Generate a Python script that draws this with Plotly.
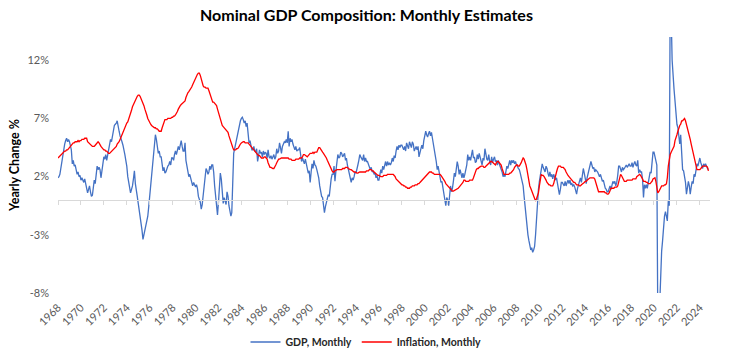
import pandas as pd
import plotly.graph_objects as go

start_month = "1968-01-01"

gdp_monthly = [
    1.9, 2.0, 2.2, 2.8, 3.4, 3.9, 4.3, 4.8, 5.1, 5.3, 5.0, 5.2,      # 1968
    5.0, 4.6, 4.3, 3.1, 3.4, 2.9, 3.0, 2.6, 2.2, 2.4, 2.0, 2.1,      # 1969
    1.7, 1.9, 1.6, 1.5, 1.8, 1.3, 1.0, 0.6, 0.9, 1.2, 0.7, 0.3,      # 1970
    0.4, 1.0, 1.7, 1.4, 2.2, 2.9, 2.6, 2.8, 2.6, 1.9, 2.5, 3.1,      # 1971
    3.7, 3.5, 3.9, 3.4, 3.8, 4.4, 4.9, 5.2, 5.0, 5.6, 6.1, 6.4,      # 1972
    6.5, 6.6, 6.8, 6.2, 5.9, 5.5, 5.3, 5.0, 4.7, 4.4, 3.9, 3.4,      # 1973
    2.9, 2.0, 1.6, 1.1, 0.6, 0.9, 1.2, 1.8, 2.5, 1.4, 0.6, 0.3,      # 1974
    -0.3, -0.8, -1.4, -2.0, -2.6, -3.4, -3.0, -2.7, -2.3, -1.9, -1.4, -0.6,  # 1975
    0.3, 1.2, 2.0, 2.8, 3.7, 4.6, 5.6, 5.2, 4.4, 4.0, 4.2, 3.7,      # 1976
    3.7, 3.2, 2.5, 2.8, 2.3, 2.4, 2.7, 2.9, 3.0, 3.3, 3.0, 3.6,      # 1977
    3.6, 3.4, 3.9, 4.2, 3.9, 4.4, 4.6, 4.3, 4.8, 5.1, 4.6, 4.2,      # 1978
    4.2, 4.9, 3.4, 3.0, 2.4, 2.0, 2.2, 1.9, 1.6, 1.2, 1.5, 1.3,      # 1979
    1.1, 1.3, 1.0, 0.3, 0.1, -0.2, -0.8, -0.4, 0.4, 1.1, 1.9, 2.7,   # 1980
    2.5, 2.2, 2.4, 2.9, 2.6, 3.0, 3.0, 2.4, 1.2, 0.4, -0.4, -1.3,    # 1981
    -0.2, 1.5, 2.3, 1.8, 0.6, -0.3, 0.2, -0.1, -0.4, 0.7, 0.3, -0.5, # 1982
    -1.0, -1.4, -1.1, 1.5, 4.0, 4.4, 4.8, 5.3, 5.7, 6.3, 6.5, 6.8,   # 1983
    7.0, 7.1, 6.9, 6.6, 6.8, 6.3, 6.6, 5.8, 4.9, 5.1, 4.6, 4.3,      # 1984
    4.3, 4.6, 4.2, 4.1, 4.4, 3.3, 3.8, 4.3, 4.0, 4.1, 3.7, 4.2,      # 1985
    3.9, 4.1, 4.0, 3.6, 4.3, 3.7, 3.6, 3.8, 3.5, 3.7, 3.9, 3.5,      # 1986
    3.7, 4.4, 4.0, 4.2, 4.9, 4.5, 4.0, 4.6, 4.9, 5.0, 4.9, 5.2,      # 1987
    4.9, 5.9, 4.6, 5.3, 5.0, 5.2, 4.8, 4.5, 4.3, 4.6, 4.2, 4.3,      # 1988
    4.3, 4.5, 4.0, 3.3, 3.6, 3.4, 3.1, 3.5, 3.0, 2.7, 2.3, 2.5,      # 1989
    1.5, 2.4, 3.1, 2.7, 3.4, 3.0, 2.9, 2.6, 2.3, 1.9, 1.2, 0.6,      # 1990
    0.3, 0.2, -0.3, -1.1, -0.6, -0.3, 0.1, 0.45, 0.3, 1.2, 1.8, 2.2, # 1991
    2.2, 2.9, 1.6, 2.5, 3.0, 3.9, 3.6, 3.7, 4.1, 4.0, 3.7, 3.8,      # 1992
    4.0, 3.4, 3.6, 3.0, 2.6, 2.0, 1.8, 1.5, 1.9, 1.7, 2.0, 2.4,      # 1993
    2.3, 2.9, 3.0, 3.4, 3.9, 3.7, 3.5, 3.4, 3.9, 3.3, 3.6, 3.3,      # 1994
    3.3, 3.0, 2.9, 2.6, 2.8, 2.4, 2.5, 2.2, 2.3, 1.9, 2.1, 1.7,      # 1995
    1.7, 2.1, 2.6, 2.3, 2.9, 2.6, 3.1, 3.3, 2.9, 3.3, 3.0, 3.2,      # 1996
    3.0, 3.2, 3.6, 3.3, 3.8, 3.6, 4.2, 4.6, 4.3, 4.7, 4.5, 4.7,      # 1997
    4.7, 4.4, 4.3, 4.6, 4.2, 4.9, 4.6, 4.4, 5.0, 4.8, 4.5, 5.0,      # 1998
    4.8, 4.2, 4.5, 4.6, 4.3, 4.6, 3.7, 4.2, 4.4, 4.7, 4.4, 5.1,      # 1999
    5.5, 5.9, 5.6, 5.4, 5.7, 5.9, 5.5, 5.8, 5.3, 4.9, 4.3, 3.8,      # 2000
    3.3, 2.6, 2.9, 2.4, 2.0, 1.5, 1.6, 1.1, 0.6, 0.3, -0.5, 0.2,     # 2001
    0.0, -0.5, 0.4, 1.2, 0.7, 1.0, 1.6, 2.3, 2.0, 2.8, 3.3, 2.9,     # 2002
    2.2, 2.6, 2.1, 1.9, 2.3, 1.9, 2.2, 2.6, 3.0, 3.9, 3.4, 3.7,      # 2003
    3.4, 3.9, 4.3, 3.6, 3.7, 3.2, 3.3, 3.9, 3.5, 4.0, 3.7, 3.3,      # 2004
    3.0, 3.6, 3.4, 4.4, 3.9, 3.5, 3.4, 3.9, 3.3, 3.0, 3.7, 3.2,      # 2005
    3.5, 3.7, 3.3, 3.4, 3.0, 3.4, 3.1, 2.9, 2.7, 2.4, 2.0, 2.2,      # 2006
    2.0, 2.5, 2.9, 2.7, 3.1, 3.4, 3.0, 3.4, 3.2, 3.4, 3.1, 3.3,      # 2007
    3.0, 2.9, 2.7, 2.6, 2.3, 2.0, 1.7, 1.2, 0.3, -0.6, -1.4, -2.3,   # 2008
    -3.0, -3.5, -3.9, -4.3, -4.1, -4.5, -4.3, -4.0, -3.0, -1.4, -0.2, 0.9,  # 2009
    1.6, 2.3, 2.7, 3.1, 2.8, 2.6, 2.4, 2.9, 2.7, 2.3, 2.0, 2.4,      # 2010
    2.0, 2.2, 1.8, 2.2, 2.0, 1.7, 1.9, 1.4, 1.0, 0.45, 0.9, 1.5,     # 2011
    1.5, 1.3, 1.2, 1.6, 1.2, 1.5, 1.7, 1.4, 1.7, 1.3, 1.4, 1.2,      # 2012
    1.3, 1.1, 0.8, 0.5, 1.0, 1.3, 1.6, 1.9, 1.5, 2.1, 2.7, 2.3,      # 2013
    1.8, 1.4, 1.9, 2.2, 2.6, 2.9, 3.3, 3.0, 2.7, 2.8, 2.4, 2.6,      # 2014
    2.5, 2.4, 2.2, 2.0, 2.2, 1.8, 1.6, 1.7, 1.2, 1.0, 0.9, 0.7,      # 2015
    0.7, 1.0, 1.2, 0.9, 1.4, 1.6, 1.4, 1.6, 1.2, 1.5, 2.1, 2.9,      # 2016
    2.9, 2.5, 2.4, 2.8, 2.6, 2.7, 2.9, 3.0, 2.8, 3.0, 3.1, 2.9,      # 2017
    2.9, 3.2, 2.8, 3.1, 3.3, 3.0, 2.9, 3.4, 2.3, 2.6, 2.4, 2.4,      # 2018
    1.8, 0.2, 1.3, 1.0, 1.3, 1.0, 1.4, 2.0, 2.4, 2.3, 3.3, 4.1,      # 2019
    4.1, 3.6, 3.3, 3.0, -10.0, -12.0, -9.0, -6.5, -4.4, -3.5, -1.8, -1.4,  # 2020
    -1.0, -1.5, -1.8, -0.1, -0.5, 18.0, 16.0, 12.0, 10.4, 9.5, 8.5, 7.3,   # 2021
    6.5, 6.2, 5.5, 4.8, 5.6, 3.5, 2.6, 2.5, 2.0, 1.5, 0.5, 0.9,      # 2022
    1.6, 1.2, 0.5, 1.1, 1.6, 1.4, 2.2, 2.0, 2.7, 3.1, 2.9, 3.4,      # 2023
    3.6, 3.2, 3.0, 2.7, 3.1, 2.9, 3.1, 2.8, 2.7, 2.6,                # 2024
]

inflation_monthly = [
    3.6, 3.7, 3.8, 3.9, 3.9, 4.0, 4.1, 4.2, 4.2, 4.3, 4.3, 4.4,      # 1968
    4.5, 4.6, 4.7, 4.8, 4.9, 4.9, 5.0, 5.0, 5.0, 5.1, 5.0, 5.1,      # 1969
    5.1, 5.2, 5.2, 5.2, 5.3, 5.3, 5.3, 5.0, 4.9, 4.8, 4.7, 4.7,      # 1970
    4.6, 4.6, 4.6, 4.7, 4.8, 4.9, 5.0, 4.9, 4.7, 4.6, 4.5, 4.4,      # 1971
    4.3, 4.3, 4.2, 4.2, 4.1, 4.0, 4.0, 4.1, 4.2, 4.2, 4.3, 4.4,      # 1972
    4.5, 4.6, 4.8, 4.9, 5.0, 5.2, 5.4, 5.7, 5.9, 6.0, 6.2, 6.4,      # 1973
    6.6, 6.7, 6.9, 7.1, 7.4, 7.7, 8.0, 8.2, 8.4, 8.6, 8.8, 8.9,      # 1974
    9.0, 9.0, 8.9, 8.7, 8.6, 8.4, 8.1, 7.8, 7.6, 7.3, 7.0, 6.8,      # 1975
    6.6, 6.5, 6.4, 6.3, 6.3, 6.2, 6.2, 6.1, 6.1, 6.0, 5.9, 5.9,      # 1976
    5.9, 6.2, 6.5, 6.8, 6.9, 6.9, 6.9, 7.0, 7.0, 7.0, 7.0, 7.1,      # 1977
    7.1, 7.2, 7.2, 7.3, 7.4, 7.6, 7.8, 8.0, 8.1, 8.2, 8.3, 8.3,      # 1978
    8.4, 8.5, 8.8, 9.1, 9.2, 9.3, 9.4, 9.5, 9.7, 9.9, 10.1, 10.3,    # 1979
    10.5, 10.7, 10.8, 10.9, 10.9, 10.7, 10.3, 9.9, 9.8, 9.7, 9.7, 9.6,  # 1980
    9.6, 9.6, 9.4, 9.1, 8.8, 8.5, 8.4, 8.4, 8.3, 8.3, 8.1, 7.8,      # 1981
    7.5, 7.3, 7.0, 6.7, 6.4, 6.3, 6.2, 6.1, 6.0, 5.9, 5.8, 5.5,      # 1982
    5.2, 5.0, 4.8, 4.5, 4.3, 4.3, 4.3, 4.4, 4.4, 4.5, 4.7, 4.8,      # 1983
    4.9, 5.0, 5.0, 5.0, 4.9, 4.9, 4.9, 4.9, 4.8, 4.7, 4.6, 4.5,      # 1984
    4.4, 4.3, 4.2, 4.0, 4.0, 3.9, 3.8, 3.8, 3.7, 3.6, 3.6, 3.6,      # 1985
    3.7, 3.7, 3.6, 3.5, 3.2, 2.9, 2.8, 2.8, 2.7, 2.7, 2.7, 2.8,      # 1986
    3.0, 3.2, 3.4, 3.5, 3.5, 3.6, 3.6, 3.6, 3.6, 3.6, 3.6, 3.6,      # 1987
    3.6, 3.6, 3.5, 3.5, 3.5, 3.4, 3.4, 3.4, 3.4, 3.5, 3.5, 3.5,      # 1988
    3.5, 3.6, 3.6, 3.6, 3.7, 3.9, 3.9, 3.8, 3.7, 3.7, 3.8, 3.9,      # 1989
    4.0, 4.0, 4.0, 4.1, 4.0, 4.1, 4.1, 4.1, 4.3, 4.5, 4.5, 4.4,      # 1990
    4.2, 4.1, 4.0, 3.9, 3.8, 3.6, 3.4, 3.2, 3.1, 2.9, 2.7, 2.5,      # 1991
    2.4, 2.4, 2.5, 2.6, 2.6, 2.6, 2.6, 2.6, 2.6, 2.6, 2.7, 2.7,      # 1992
    2.7, 2.8, 2.8, 2.8, 2.7, 2.6, 2.6, 2.6, 2.5, 2.5, 2.4, 2.4,      # 1993
    2.3, 2.3, 2.3, 2.4, 2.4, 2.4, 2.4, 2.4, 2.4, 2.4, 2.4, 2.5,      # 1994
    2.5, 2.5, 2.6, 2.6, 2.6, 2.5, 2.5, 2.4, 2.3, 2.3, 2.2, 2.1,      # 1995
    2.1, 2.0, 2.0, 2.0, 2.0, 2.1, 2.1, 2.1, 2.1, 2.2, 2.2, 2.2,      # 1996
    2.2, 2.2, 2.2, 2.2, 2.1, 2.0, 1.8, 1.7, 1.6, 1.5, 1.4, 1.3,      # 1997
    1.3, 1.3, 1.2, 1.2, 1.1, 1.1, 1.0, 1.0, 1.0, 1.1, 1.1, 1.2,      # 1998
    1.2, 1.2, 1.3, 1.3, 1.3, 1.4, 1.4, 1.5, 1.6, 1.7, 1.8, 1.9,      # 1999
    2.0, 2.1, 2.2, 2.3, 2.3, 2.4, 2.4, 2.4, 2.3, 2.3, 2.2, 2.2,      # 2000
    2.2, 2.2, 2.2, 2.2, 2.2, 2.1, 2.0, 1.9, 1.8, 1.6, 1.4, 1.3,      # 2001
    1.2, 1.1, 1.0, 0.9, 0.8, 0.75, 0.75, 0.8, 0.85, 0.9, 0.9, 1.0,   # 2002
    1.1, 1.2, 1.3, 1.4, 1.5, 1.7, 1.7, 1.6, 1.6, 1.6, 1.6, 1.7,      # 2003
    1.7, 1.7, 1.7, 1.9, 2.2, 2.5, 2.6, 2.7, 2.7, 2.8, 2.9, 2.9,      # 2004
    2.9, 2.9, 2.8, 2.8, 2.9, 3.0, 3.1, 3.1, 3.2, 3.3, 3.3, 3.2,      # 2005
    3.1, 3.0, 3.0, 3.2, 3.3, 3.3, 3.2, 3.1, 3.0, 2.7, 2.4, 2.2,      # 2006
    2.2, 2.2, 2.2, 2.2, 2.2, 2.3, 2.3, 2.4, 2.5, 2.6, 2.8, 2.9,      # 2007
    3.0, 3.0, 2.9, 2.9, 3.0, 3.2, 3.4, 3.6, 3.5, 3.3, 3.0, 2.6,      # 2008
    2.0, 1.6, 1.2, 1.0, 0.8, 0.6, 0.4, 0.2, -0.1, 0.1, 0.3, 0.6,     # 2009
    1.2, 2.0, 2.2, 2.1, 2.1, 2.0, 1.9, 1.7, 1.5, 1.4, 1.3, 1.3,      # 2010
    1.2, 1.2, 1.2, 1.4, 1.8, 2.1, 2.4, 2.7, 2.9, 2.9, 2.9, 2.8,      # 2011
    2.8, 2.8, 2.7, 2.6, 2.4, 2.2, 2.1, 2.0, 1.9, 1.8, 1.7, 1.6,      # 2012
    1.5, 1.5, 1.4, 1.3, 1.3, 1.3, 1.2, 1.2, 1.3, 1.4, 1.5, 1.5,      # 2013
    1.6, 1.6, 1.7, 1.8, 1.9, 1.9, 1.9, 1.9, 1.9, 1.9, 1.8, 1.5,      # 2014
    1.1, 0.8, 0.7, 0.7, 0.7, 0.7, 0.7, 0.7, 0.7, 0.6, 0.6, 0.5,      # 2015
    0.5, 0.6, 0.8, 1.0, 1.0, 1.0, 1.0, 1.1, 1.1, 1.1, 1.2, 1.6,      # 2016
    2.0, 2.2, 2.1, 1.9, 1.7, 1.6, 1.6, 1.6, 1.7, 1.7, 1.7, 1.7,      # 2017
    1.7, 1.7, 1.8, 1.8, 1.8, 1.8, 2.0, 2.1, 2.2, 2.2, 2.1, 2.0,      # 2018
    1.8, 1.6, 1.6, 1.6, 1.5, 1.5, 1.4, 1.4, 1.4, 1.5, 1.6, 1.8,      # 2019
    1.9, 1.9, 1.6, 0.8, 0.6, 0.7, 0.9, 1.1, 1.2, 1.2, 1.2, 1.3,      # 2020
    1.3, 1.4, 1.9, 2.9, 3.7, 3.9, 4.1, 4.3, 4.4, 4.6, 5.1, 5.5,      # 2021
    5.6, 5.9, 6.3, 6.4, 6.5, 6.8, 6.8, 6.9, 7.0, 6.8, 6.5, 6.2,      # 2022
    5.9, 5.6, 5.2, 4.8, 4.4, 4.0, 3.6, 3.2, 2.8, 2.6, 2.6, 2.6,      # 2023
    2.6, 2.7, 2.8, 2.9, 2.9, 2.9, 2.9, 2.9, 2.8, 2.5,                # 2024
]

y_tick_values = [-8, -3, 2, 7, 12]
y_tick_labels = ["-8%", "-3%", "2%", "7%", "12%"]

months = pd.date_range(start_month, periods=len(gdp_monthly), freq="MS")

FONT = "Lato"
GREY = "#595959"

fig = go.Figure()
fig.add_trace(go.Scatter(
    x=months, y=gdp_monthly, name="GDP, Monthly", mode="lines",
    line=dict(color="#4472C4", width=1.3), xaxis="x", yaxis="y",
))
fig.add_trace(go.Scatter(
    x=months, y=inflation_monthly, name="Inflation, Monthly", mode="lines",
    line=dict(color="#FF0000", width=1.3), xaxis="x2", yaxis="y",
))

x_range = ["1968-01-01", "2024-11-20"]

fig.update_layout(
    width=733, height=362,
    margin=dict(l=58, r=23, t=37, b=69, autoexpand=False),
    paper_bgcolor="white", plot_bgcolor="white",
    font=dict(family=FONT, color=GREY),
    title=dict(
        text="Nominal GDP Composition: Monthly Estimates",
        x=0.5, xref="container", xanchor="center",
        y=1 - 15 / 362, yref="container", yanchor="middle",
        font=dict(family=FONT, size=16, color="#000000", weight="bold"),
        automargin=False,
    ),
    xaxis=dict(
        type="date", range=x_range, automargin=False,
        tickmode="linear", tick0="1968-01-01", dtick="M24", tickformat="%Y",
        tickangle=-45, tickfont=dict(size=11, color=GREY), ticklabelstandoff=5,
        showgrid=False, showline=False, zeroline=False, ticks="",
    ),
    xaxis2=dict(
        type="date", overlaying="x", matches="x", anchor="free",
        position=8 / 22, side="bottom", automargin=False,
        tickmode="linear", tick0="1968-01-01", dtick="M24",
        showticklabels=False, showgrid=False, zeroline=False,
        showline=True, linecolor="#D9D9D9", linewidth=1,
        ticks="outside", ticklen=4, tickcolor="#D9D9D9", tickwidth=1,
    ),
    yaxis=dict(
        range=[-8, 14], tickmode="array", tickvals=y_tick_values,
        ticktext=y_tick_labels, tickfont=dict(size=11, color=GREY),
        showgrid=False, zeroline=False, showline=False, ticks="",
        automargin=False, ticklabelstandoff=8,
        title=dict(text="Yearly Change %", standoff=5,
                   font=dict(family=FONT, size=12.5, color="#000000", weight="bold")),
    ),
    showlegend=True,
    legend=dict(
        orientation="h", x=(366 - 58) / 652, xanchor="center",
        y=-49 / 256, yanchor="middle",
        font=dict(family=FONT, size=10.5, color="#262626", weight="bold"),
        itemwidth=30, bgcolor="rgba(0,0,0,0)",
    ),
)

fig.write_html(
    "out.html",
    config={"displayModeBar": False},
    post_script="document.body.style.margin='0';document.body.style.overflow='hidden';",
)
